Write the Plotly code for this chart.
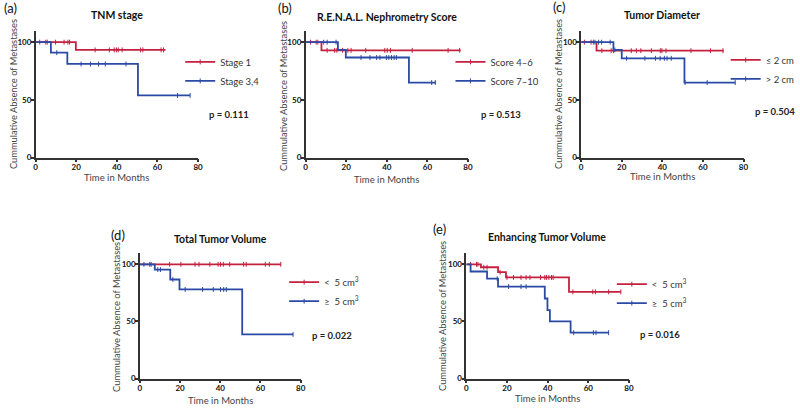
import plotly.graph_objects as go

W, H = 800, 409
RED = "#C4213F"
BLUE = "#2B4AA6"
AXC = "#333333"
FONT = "Lato"

# ---------------- data ----------------
# (a) TNM stage
a_names = ["Stage 1", "Stage 3,4"]
a_s1_t = [0, 19.8, 64]
a_s1_s = [100, 93.3, 93.3]
a_s1_c = [2, 5, 5.7, 9.8, 14, 15.9, 16.7, 29.3, 36.3, 38.7, 39.8, 40.7, 42.6, 51.7, 52.8, 61.8, 63]
a_s2_t = [0, 7.5, 15.6, 50.4, 76.1]
a_s2_s = [100, 90.9, 81.1, 53.8, 53.8]
a_s2_c = [10.4, 22.4, 27, 31, 34.3, 44.5, 69.9, 76.1]
a_p = "p = 0.111"

# (b) R.E.N.A.L. Nephrometry Score
b_names = ["Score 4–6", "Score 7–10"]
b_s1_t = [0, 7.8, 76.4]
b_s1_s = [100, 92.9, 92.9]
b_s1_c = [2.4, 5.2, 6, 10.6, 14.3, 15.4, 18.2, 20.8, 22.4, 29.6, 39, 40.2, 41.8, 52.5, 70.2, 75.9]
b_s2_t = [0, 15.9, 19.8, 50.9, 64.2]
b_s2_s = [100, 93.3, 86.7, 65, 65]
b_s2_c = [8.9, 10.6, 15, 27.3, 31.7, 35, 36.6, 39.8, 41, 42.3, 43.6, 44.7, 62.1, 63.9]
b_p = "p = 0.513"

# (c) Tumor Diameter
c_names = ["≤ 2 cm", "> 2 cm"]
c_s1_t = [0, 7.6, 70.2]
c_s1_s = [100, 92.6, 92.6]
c_s1_c = [1.6, 4.9, 6, 10.2, 14.8, 15.9, 24.7, 27.2, 29.4, 34.6, 39, 39.8, 41.8, 54.1, 63.7, 69.9]
c_s2_t = [0, 15.9, 20, 50.9, 75.9]
c_s2_s = [100, 93.3, 86, 65, 65]
c_s2_c = [6.8, 8.6, 10.1, 14.3, 16.6, 22.4, 31.4, 36.6, 38.9, 41, 42.3, 44.4, 51.2, 62.1, 75.9]
c_p = "p = 0.504"

# (d) Total Tumor Volume
d_names = ["<  5 cm<sup>3</sup>", "≥  5 cm<sup>3</sup>"]
d_s1_t = [0, 70.1]
d_s1_s = [100, 100]
d_s1_c = [14.8, 20.4, 27.4, 29.4, 34.8, 38.9, 40.1, 41.5, 44.7, 51.6, 52.9, 62.4, 64.4, 70.1]
d_s2_t = [0, 7.4, 15.1, 19.7, 50.9, 76.2]
d_s2_s = [100, 95.4, 86.7, 78, 38.7, 38.7]
d_s2_c = [2, 4.9, 5.6, 8.9, 10.2, 16.4, 22.5, 31.2, 36.5, 40.1, 41.7, 43, 76.2]
d_p = "p = 0.022"

# (e) Enhancing Tumor Volume
e_names = ["<  5 cm<sup>3</sup>", "≥  5 cm<sup>3</sup>"]
e_s1_t = [0, 7.2, 15.6, 19.5, 50.5, 76]
e_s1_s = [100, 97.4, 93.1, 88.5, 75.9, 75.9]
e_s1_c = [2.1, 5, 5.7, 8.6, 10.2, 16.6, 20, 23.2, 26.9, 29.4, 31.3, 36.5, 38.6, 39.4, 40.6, 41.9, 42.7, 52.4, 62.2, 63.5, 70, 76]
e_s2_t = [0, 2.1, 10.2, 15.6, 38.6, 39.9, 41.1, 51.3, 70]
e_s2_s = [100, 93.7, 87.4, 80.5, 70.1, 60, 50, 40.2, 40.2]
e_s2_c = [15.2, 20.8, 26.9, 29.4, 52.8, 62.5, 63.8, 70]
e_p = "p = 0.016"

titles = ["TNM stage", "R.E.N.A.L. Nephrometry Score", "Tumor Diameter",
          "Total Tumor Volume", "Enhancing Tumor Volume"]
labels = ["(a)", "(b)", "(c)", "(d)", "(e)"]
x_ticks = [0, 20, 40, 60, 80]
y_ticks = [0, 50, 100]
x_title = "Time in Months"
y_title = "Cummulative Absence of Metastases"

# ---------------- layout geometry (px) ----------------
# x0, x80, ybottom(0), ytop(110)
geo = [
    (34, 198, 159.5, 31),
    (306.7, 470.7, 159.5, 31),
    (585, 749, 159.5, 31),
    (139.3, 301.7, 383.3, 256),
    (469, 633.3, 383.3, 256),
]
pos = [
    dict(t=(116, 15), l=(0, 8), yt=(12.3, 95), xt=(116, 180), p=(207, 116), lg=(217, 62)),
    dict(t=(389, 17), l=(277, 8), yt=(285, 97), xt=(388, 182), p=(482, 116), lg=(490, 62)),
    dict(t=(667, 15), l=(555, 7), yt=(562.7, 95), xt=(667, 179), p=(759, 113), lg=(768, 60)),
    dict(t=(221, 242), l=(108, 238), yt=(115, 321), xt=(221, 405), p=(311, 340), lg=(322, 285)),
    dict(t=(551, 240), l=(433, 232), yt=(444.3, 320), xt=(551, 403), p=(642, 339), lg=(653, 287)),
]

panels = [
    (a_names, a_s1_t, a_s1_s, a_s1_c, a_s2_t, a_s2_s, a_s2_c, a_p),
    (b_names, b_s1_t, b_s1_s, b_s1_c, b_s2_t, b_s2_s, b_s2_c, b_p),
    (c_names, c_s1_t, c_s1_s, c_s1_c, c_s2_t, c_s2_s, c_s2_c, c_p),
    (d_names, d_s1_t, d_s1_s, d_s1_c, d_s2_t, d_s2_s, d_s2_c, d_p),
    (e_names, e_s1_t, e_s1_s, e_s1_c, e_s2_t, e_s2_s, e_s2_c, e_p),
]


def step_at(ts, ss, x):
    v = ss[0]
    for t, s in zip(ts, ss):
        if t <= x:
            v = s
    return v


def px(x):
    return x / W


def py(y):
    return 1 - y / H


fig = go.Figure()
annotations = []
layout = {}

for i, (names, t1, s1, c1, t2, s2, c2, ptxt) in enumerate(panels):
    k = "" if i == 0 else str(i + 1)
    xa, ya = "x" + k, "y" + k
    lg = "legend" + k
    for name, ts, ss, cs, col in [(names[0], t1, s1, c1, RED), (names[1], t2, s2, c2, BLUE)]:
        fig.add_trace(go.Scatter(
            x=ts, y=ss, mode="lines", line=dict(color=col, width=1.8, shape="hv"),
            xaxis=xa, yaxis=ya, showlegend=False, hoverinfo="skip"))
        fig.add_trace(go.Scatter(
            x=cs, y=[step_at(ts, ss, c) for c in cs], mode="markers",
            marker=dict(symbol="line-ns", size=3.5, line=dict(color=col, width=1), color=col),
            xaxis=xa, yaxis=ya, showlegend=False, cliponaxis=False, hoverinfo="skip"))
        # legend entry (line + censor tick)
        fig.add_trace(go.Scatter(
            x=[None], y=[None], mode="lines+markers", name=name,
            line=dict(color=col, width=1.8),
            marker=dict(symbol="line-ns", size=3.5, line=dict(color=col, width=1), color=col),
            xaxis=xa, yaxis=ya, legend=lg, showlegend=True))

    x0, x80, yb, yt = geo[i]
    axis_common = dict(
        showline=True, linecolor=AXC, linewidth=1.5, ticks="outside", ticklen=3,
        tickwidth=1.5, tickcolor=AXC, showgrid=False, zeroline=False,
        tickfont=dict(family=FONT, size=8, color="#111", weight="bold"), fixedrange=True)
    layout["xaxis" + k] = dict(domain=[px(x0), px(x80)], range=[0, 80], tickvals=x_ticks,
                               anchor=ya, ticklabelstandoff=-2, **axis_common)
    layout["yaxis" + k] = dict(domain=[py(yb), py(yt)], range=[0, 110], tickvals=y_ticks,
                               anchor=xa, ticklabelstandoff=-2, **axis_common)

    P = pos[i]
    lx, ly = P["lg"]
    layout[lg] = dict(
        x=px(lx - 37), y=py(ly - 14), xanchor="left", yanchor="top",
        bgcolor="rgba(0,0,0,0)", borderwidth=0,
        font=dict(family=FONT, size=9.5, color="#333"))

    annotations += [
        dict(text=f"<b>{titles[i]}</b>", x=px(P["t"][0]), y=py(P["t"][1]), xref="paper", yref="paper",
             xanchor="center", yanchor="middle", showarrow=False,
             font=dict(family=FONT, size=10.5, color="#111")),
        dict(text=labels[i], x=px(P["l"][0]), y=py(P["l"][1]), xref="paper", yref="paper",
             xanchor="left", yanchor="middle", showarrow=False,
             font=dict(family=FONT, size=13, color="#111")),
        dict(text=y_title, x=px(P["yt"][0]), y=py(P["yt"][1]), xref="paper", yref="paper",
             xanchor="center", yanchor="middle", showarrow=False, textangle=-90,
             font=dict(family=FONT, size=9.3, color="#444")),
        dict(text=x_title, x=px(P["xt"][0]), y=py(P["xt"][1]), xref="paper", yref="paper",
             xanchor="center", yanchor="middle", showarrow=False,
             font=dict(family=FONT, size=9.5, color="#444")),
        dict(text=f"<b>{ptxt}</b>", x=px(P["p"][0]), y=py(P["p"][1]), xref="paper", yref="paper",
             xanchor="left", yanchor="middle", showarrow=False,
             font=dict(family=FONT, size=9.5, color="#222")),
    ]

fig.update_layout(
    width=W, height=H, margin=dict(l=0, r=0, t=0, b=0),
    paper_bgcolor="white", plot_bgcolor="white",
    annotations=annotations, **layout)

fig.write_html("out.html", config={"displayModeBar": False},
               post_script="document.body.style.margin='0';document.body.style.overflow='hidden';")
